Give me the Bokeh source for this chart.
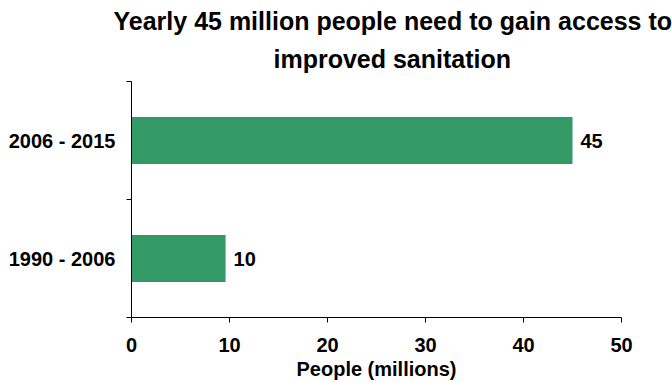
from bokeh.plotting import figure
from bokeh.models import ColumnDataSource, FixedTicker, Range1d, Title
from bokeh.core.properties import value
from bokeh.embed import file_html
from bokeh.resources import INLINE

# Data
categories = ["1990 - 2006", "2006 - 2015"]
values = [9.6, 45.0]
value_labels = ["10", "45"]
x_ticks = [0, 10, 20, 30, 40, 50]
title_lines = ["Yearly 45 million people need to gain access to",
               "improved sanitation"]

FONT = "Liberation Sans"
GREEN = "#339966"

ypos = [i + 0.5 for i in range(len(categories))]
src = ColumnDataSource(dict(y=ypos, v=values, lab=value_labels, cat=categories))

p = figure(width=672, height=383, output_backend="svg", toolbar_location=None,
           x_range=Range1d(0, 50), y_range=Range1d(0, len(categories)),
           min_border_left=131, min_border_right=51, min_border_top=81,
           min_border_bottom=66)
p.outline_line_color = None
p.grid.visible = False
p.background_fill_color = "white"
p.border_fill_color = "white"

p.hbar(y="y", left=0, right="v", height=0.4, source=src,
       fill_color=GREEN, line_color=None)
p.text(x="v", y="y", text="lab", source=src, x_offset=8,
       text_align="left", text_baseline="middle",
       text_font=value(FONT), text_font_size="20px", text_font_style="bold",
       text_color="black")

# x axis
xa = p.xaxis[0]
xa.ticker = FixedTicker(ticks=x_ticks)
xa.major_tick_out = 5
xa.major_tick_in = 0
xa.minor_tick_line_color = None
xa.major_label_text_font = FONT
xa.major_label_text_font_size = "20px"
xa.major_label_text_font_style = "bold"
xa.major_label_text_color = "black"
xa.major_label_standoff = 15
xa.axis_label = "People (millions)"
xa.axis_label_text_font = FONT
xa.axis_label_text_font_size = "20px"
xa.axis_label_text_font_style = "bold"
xa.axis_label_text_color = "black"
xa.axis_label_standoff = 3
xa.axis_line_color = "black"
xa.major_tick_line_color = "black"

# y axis
ya = p.yaxis[0]
ya.ticker = FixedTicker(ticks=ypos, minor_ticks=list(range(len(categories) + 1)))
ya.major_label_overrides = {y: c for y, c in zip(ypos, categories)}
ya.major_tick_out = 0
ya.major_tick_in = 0
ya.major_tick_line_color = None
ya.minor_tick_out = 5
ya.minor_tick_in = 0
ya.minor_tick_line_color = "black"
ya.major_label_standoff = 11
ya.major_label_text_font = FONT
ya.major_label_text_font_size = "20px"
ya.major_label_text_font_style = "bold"
ya.major_label_text_color = "black"
ya.axis_line_color = "black"

# Title (two lines); the last added sits on top
p.add_layout(Title(text=title_lines[1], align="left", offset=142,
                   text_font=FONT, text_font_size="25px", text_color="black",
                   text_font_style="bold", standoff=17), "above")
p.add_layout(Title(text=title_lines[0], align="left", offset=-18,
                   text_font=FONT, text_font_size="25px", text_color="black",
                   text_font_style="bold", standoff=0), "above")

open("out.html", "w").write(file_html(p, INLINE))
